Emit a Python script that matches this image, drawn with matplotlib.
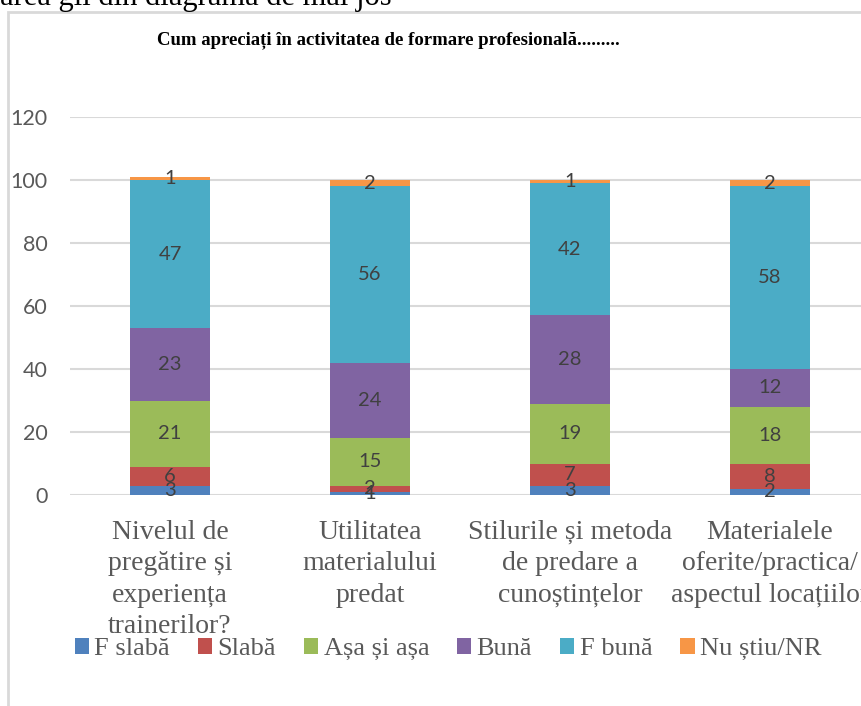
import matplotlib
matplotlib.use("Agg")
import matplotlib.pyplot as plt
from matplotlib.patches import Rectangle
import numpy as np

categories = [
    "Nivelul de\npregătire și\nexperiența\ntrainerilor?",
    "Utilitatea\nmaterialului\npredat",
    "Stilurile și metoda\nde predare a\ncunoștințelor",
    "Materialele\noferite/practica/\naspectul locațiilor",
]
series_names = ["F slabă", "Slabă", "Așa și așa", "Bună", "F bună", "Nu știu/NR"]
f_slaba = [3, 1, 3, 2]
slaba = [6, 2, 7, 8]
asa_si_asa = [21, 15, 19, 18]
buna = [23, 24, 28, 12]
f_buna = [47, 56, 42, 58]
nu_stiu = [1, 2, 1, 2]
yticks = [0, 20, 40, 60, 80, 100, 120]
title = "Cum apreciați în activitatea de formare profesională........."
colors = ["#4F81BD", "#C0504D", "#9BBB59", "#8064A2", "#4BACC6", "#F79646"]

W, H = 862, 706
fig = plt.figure(figsize=(W / 100, H / 100), dpi=100)

def fx(px):
    return px / W

def fy(py):
    return 1 - py / H

# chart frame (Excel chart border, partially clipped)
fig.patches.append(Rectangle((fx(8), fy(720)), fx(900), fy(12) - fy(720),
                             transform=fig.transFigure, fill=False,
                             edgecolor="#D9D9D9", linewidth=2))

# clipped document text above the chart
fig.text(fx(392), fy(5), "area gii din diagrama de mai jos", ha="right",
         va="baseline", fontsize=22, family="Liberation Serif", color="#000000")

ax = fig.add_axes([fx(70), fy(495), fx(800), fy(117) - fy(495)])
x = np.arange(len(categories))
series = [f_slaba, slaba, asa_si_asa, buna, f_buna, nu_stiu]
bottom = np.zeros(len(categories))
handles = []
for name, vals, c in zip(series_names, series, colors):
    vals = np.array(vals, dtype=float)
    b = ax.bar(x, vals, 0.4, bottom=bottom, color=c, label=name, zorder=3)
    handles.append(b)
    for xi, v, bt in zip(x, vals, bottom):
        ax.text(xi, bt + v / 2, f"{int(v)}", ha="center", va="center",
                fontsize=14.5, family="Lato", color="#404040", zorder=4)
    bottom += vals

ax.set_xlim(-0.5, 3.5)
ax.set_ylim(0, 120)
ax.set_yticks(yticks)
ax.set_yticklabels([str(t) for t in yticks], family="Lato", fontsize=15.5, color="#595959")
ax.set_xticks(x)
ax.set_xticklabels(categories, family="Liberation Serif", fontsize=20, color="#595959",
                   linespacing=1.33)
ax.tick_params(axis="both", length=0)
ax.tick_params(axis="y", pad=16)
ax.tick_params(axis="x", pad=18)
ax.grid(axis="y", color="#D9D9D9", linewidth=1.5, zorder=0)
for s in ax.spines.values():
    s.set_visible(False)

fig.text(fx(388), fy(40), title, ha="center", va="center", fontsize=13.5,
         fontweight="bold", family="Liberation Serif", color="#000000")

fig.legend(handles, series_names, loc="center", bbox_to_anchor=(fx(448), fy(649)),
           ncol=6, frameon=False, prop={"family": "Liberation Serif", "size": 19},
           handlelength=0.55, handleheight=0.55, handletextpad=0.2, columnspacing=1.05,
           labelcolor="#595959", borderaxespad=0)

fig.savefig("out.png", dpi=100)
